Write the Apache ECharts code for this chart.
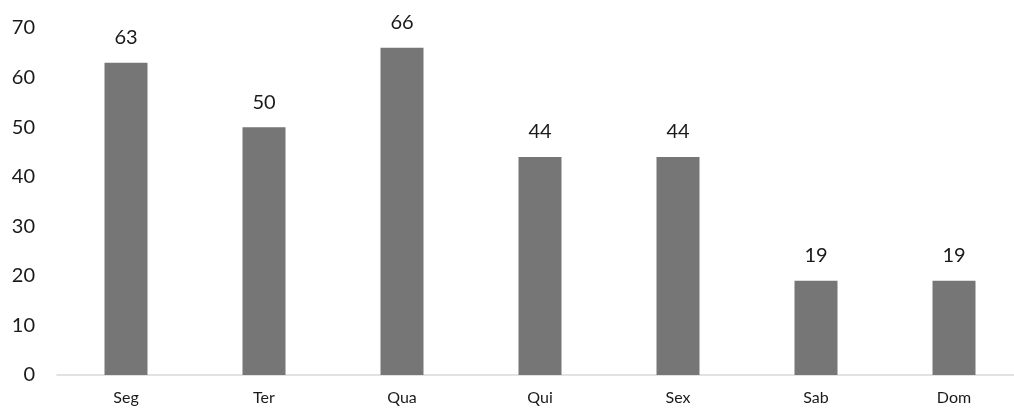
<!DOCTYPE html>
<html>
<head>
<meta charset="utf-8">
<script src="https://cdn.jsdelivr.net/npm/echarts@6/dist/echarts.min.js"></script>
<style>
  html, body { margin: 0; padding: 0; background: #fff; overflow: hidden; }
  /* the plot runs a little past the right edge of the window */
  #chart { width: 1023px; height: 409px; }
</style>
</head>
<body>
<div id="chart"></div>
<script>
// Days of the week and counts per day
const days = ['Seg', 'Ter', 'Qua', 'Qui', 'Sex', 'Sab', 'Dom'];
const counts = [63, 50, 66, 44, 44, 19, 19];
const yTicks = { min: 0, max: 70, interval: 10 };

const chart = echarts.init(document.getElementById('chart'), null, { renderer: 'canvas' });
chart.setOption({
  animation: false,
  backgroundColor: '#ffffff',
  textStyle: { fontFamily: 'Lato, Open Sans, sans-serif' },
  grid: { left: 57, top: 28, right: 0, bottom: 34, containLabel: false },
  xAxis: {
    type: 'category',
    data: days,
    axisLine: { show: true, lineStyle: { color: '#d9d9d9', width: 1.5 } },
    axisTick: { show: false },
    axisLabel: { color: '#1a1a1a', fontSize: 16, margin: 15 }
  },
  yAxis: {
    type: 'value',
    min: yTicks.min,
    max: yTicks.max,
    interval: yTicks.interval,
    axisLine: { show: false },
    axisTick: { show: false },
    splitLine: { show: false },
    axisLabel: { color: '#1a1a1a', fontSize: 20, margin: 22 }
  },
  series: [{
    type: 'bar',
    data: counts,
    barWidth: 43,
    itemStyle: { color: '#767676' },
    label: { show: true, position: 'top', distance: 15, color: '#1a1a1a', fontSize: 20 }
  }]
});
</script>
</body>
</html>
